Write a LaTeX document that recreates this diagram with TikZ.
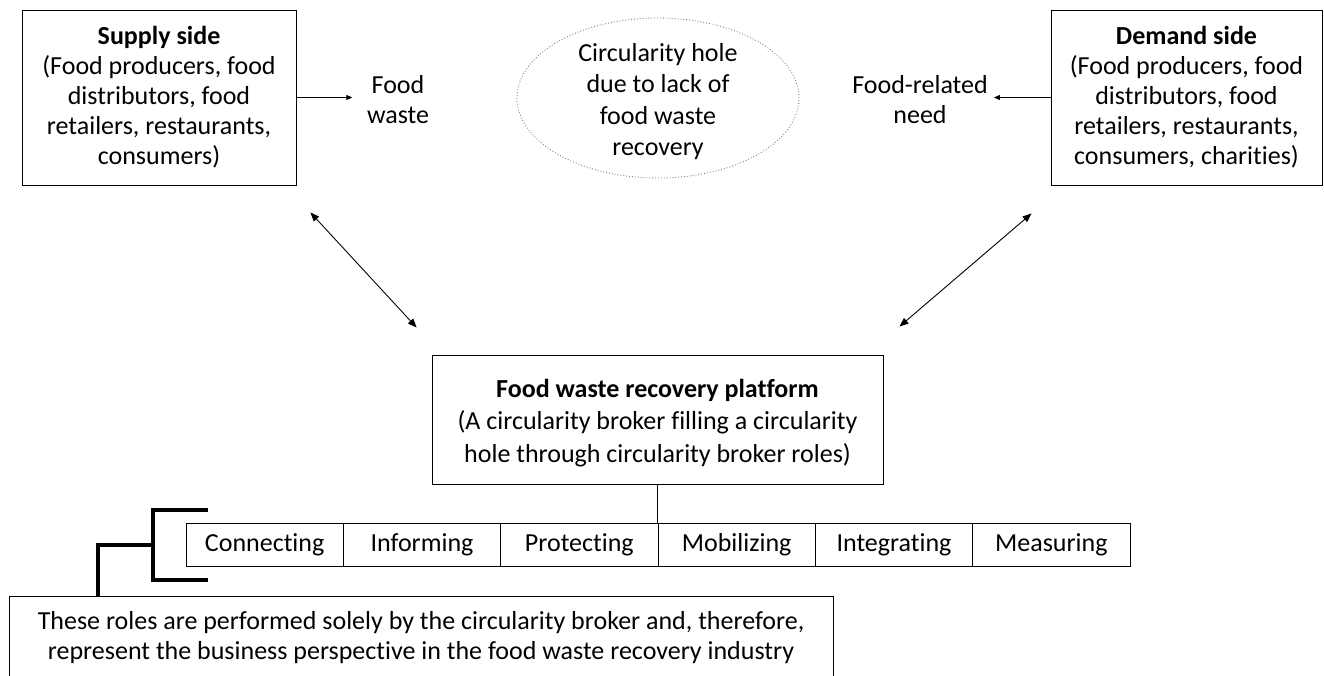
\documentclass[tikz,border=0pt]{standalone}
\usepackage{fontspec}
\setmainfont{Carlito}[Ligatures=CommonOff]
\usetikzlibrary{arrows.meta,shapes.geometric}
\begin{document}
\begin{tikzpicture}[x=1pt,y=-1pt,
  txt/.style={font=\fontsize{26}{30}\selectfont, align=center},
  box/.style={txt, draw, line width=1pt, inner sep=0pt},
  role/.style={box, minimum width=157.33pt, minimum height=43pt},
  arr/.style={line width=0.9pt, -{Triangle[length=6pt,width=5pt]}},
  darr/.style={line width=0.9pt, {Triangle[length=9pt,width=7pt]}-{Triangle[length=9pt,width=7pt]}},
  brk/.style={line width=3.5pt}
]
\clip (0,0) rectangle (1324,675);

% top boxes
\node[box, minimum width=274pt, minimum height=175pt] (supply) at (159,97.5)
  {\textbf{Supply side}\\(Food producers, food\\distributors, food\\retailers, restaurants,\\consumers)};
\node[box, minimum width=271pt, minimum height=175pt] (demand) at (1186.5,97.5)
  {\textbf{Demand side}\\(Food producers, food\\distributors, food\\retailers, restaurants,\\consumers, charities)};

\node[txt, inner xsep=14.5pt] (fw) at (398,100) {Food\\waste};
\node[txt, inner xsep=6pt] (need) at (920,100) {Food-related\\need};

\draw[arr] (supply.east) -- (supply.east -| fw.west);
\draw[arr] (demand.west) -- (demand.west -| need.east);

% ellipse
\node[ellipse, draw=gray, dotted, line width=0.9pt, minimum width=282pt, minimum height=160pt, inner sep=0pt] (hole) at (658,98) {};
\node[txt, font=\fontsize{26}{31.5}\selectfont, yshift=-3.5pt] (holetxt) at (hole.center) {Circularity hole\\due to lack of\\food waste\\recovery};

% platform
\node[draw, line width=1pt, minimum width=451pt, minimum height=129pt, inner sep=0pt] (platform) at (657.5,419.5) {};
\node[txt, font=\fontsize{26}{32.5}\selectfont, yshift=-3.5pt] (platformtxt) at (platform.center)
  {\textbf{Food waste recovery platform}\\(A circularity broker filling a circularity\\hole through circularity broker roles)};

\draw[darr, shorten <=36.7pt, shorten >=36.7pt] ([xshift=-11pt]supply.south east) -- ([xshift=10pt]platform.north west);
\draw[darr, shorten <=43pt, shorten >=43pt] ([xshift=13.7pt]demand.south west) -- ([xshift=-16.7pt]platform.north east);

% roles
\node[role] (connecting) at (264.67,544.5) {Connecting};
\node[role] (informing) at (422,544.5) {Informing};
\node[role] (protecting) at (579.33,544.5) {Protecting};
\node[role] (mobilizing) at (736.67,544.5) {Mobilizing};
\node[role] (integrating) at (894,544.5) {Integrating};
\node[role] (measuring) at (1051.33,544.5) {Measuring};

\draw[line width=1pt] (platform.south) -- (platform.south |- mobilizing.north);

% note
\node[box, minimum width=824pt, minimum height=83pt] (note) at (421,637.5)
  {These roles are performed solely by the circularity broker and, therefore,\\represent the business perspective in the food waste recovery industry};

% bracket
\coordinate (bta) at (208,510);
\coordinate (bt) at (153,510);
\coordinate (bb) at (153,580);
\coordinate (bba) at (208,580);
\coordinate (bm) at (153,545);
\coordinate (bl) at (98,545);
\draw[brk] (bta) -- (bt) -- (bb) -- (bba);
\draw[brk] (bm) -- (bl) -- (bl |- note.north);
\end{tikzpicture}
\end{document}
